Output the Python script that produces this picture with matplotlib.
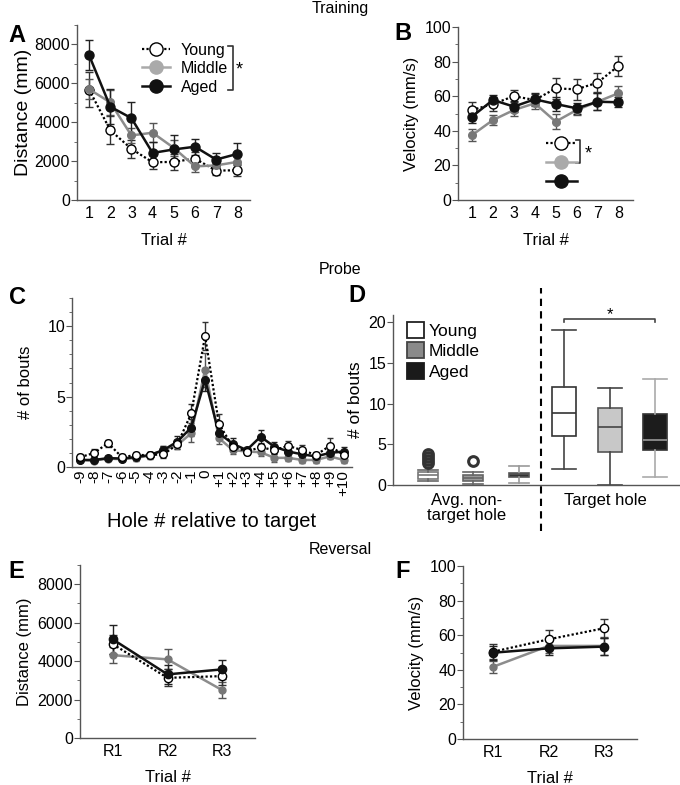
import numpy as np
import matplotlib.pyplot as plt
from matplotlib.lines import Line2D
from matplotlib.patches import Patch

plt.rcParams['font.family'] = ['Liberation Sans', 'DejaVu Sans']
plt.rcParams['font.size'] = 11

# ---- data ----
trials = [1, 2, 3, 4, 5, 6, 7, 8]
dist_young = [5680, 3590, 2630, 1940, 1960, 2130, 1510, 1530]
dist_young_err = [900, 720, 450, 350, 400, 350, 200, 300]
dist_middle = [5700, 5020, 3320, 3460, 2680, 1730, 1780, 1960]
dist_middle_err = [500, 650, 400, 500, 400, 300, 250, 400]
dist_aged = [7450, 4800, 4210, 2420, 2600, 2740, 2080, 2370]
dist_aged_err = [780, 900, 850, 550, 730, 400, 350, 550]

vel_young = [52, 55.5, 60, 57.8, 64.5, 64, 67.8, 77.5]
vel_young_err = [4.5, 4, 3.5, 3.5, 6, 6, 5.5, 6]
vel_middle = [37.5, 46.2, 52, 55.9, 45.3, 52, 56.8, 61.7]
vel_middle_err = [3.5, 3, 3.5, 3.5, 4.5, 3, 5, 4]
vel_aged = [48.2, 57.8, 54, 58.2, 55.5, 53, 56.8, 56.5]
vel_aged_err = [3.5, 3, 3, 3.5, 4, 3, 5, 3]

holes = ['-9', '-8', '-7', '-6', '-5', '-4', '-3', '-2', '-1', '0',
         '+1', '+2', '+3', '+4', '+5', '+6', '+7', '+8', '+9', '+10']
bouts_young = [0.7, 1.0, 1.7, 0.7, 0.85, 0.85, 0.9, 1.6, 3.8, 9.3,
               3.05, 1.45, 1.1, 1.4, 1.2, 1.5, 1.2, 0.85, 1.5, 0.85]
bouts_young_err = [0.2, 0.25, 0.25, 0.2, 0.2, 0.2, 0.25, 0.3, 0.7, 1.0,
                   0.7, 0.3, 0.2, 0.3, 0.3, 0.35, 0.35, 0.25, 0.55, 0.3]
bouts_middle = [0.5, 0.45, 0.6, 0.55, 0.65, 0.8, 1.2, 1.55, 2.4, 6.9,
                2.05, 1.2, 1.1, 1.05, 0.65, 0.65, 0.5, 0.5, 0.75, 0.5]
bouts_middle_err = [0.15, 0.15, 0.15, 0.15, 0.2, 0.2, 0.3, 0.3, 0.6, 1.2,
                    0.4, 0.3, 0.25, 0.3, 0.3, 0.25, 0.2, 0.2, 0.2, 0.2]
bouts_aged = [0.5, 0.5, 0.63, 0.6, 0.7, 0.85, 1.2, 1.8, 2.8, 6.2,
              2.4, 1.65, 1.2, 2.15, 1.45, 1.1, 0.9, 0.75, 1.0, 1.1]
bouts_aged_err = [0.15, 0.15, 0.15, 0.15, 0.2, 0.2, 0.3, 0.4, 0.6, 0.8,
                  0.4, 0.4, 0.25, 0.5, 0.35, 0.3, 0.3, 0.25, 0.3, 0.3]

# box plot summary (young, middle, aged)
nt_med = [1.2, 0.8, 1.3]
nt_q1 = [0.7, 0.5, 1.0]
nt_q3 = [1.65, 1.2, 1.5]
nt_lo = [0.5, 0.1, 0.3]
nt_hi = [1.8, 1.6, 2.3]
nt_fliers = [[2.75, 3.1, 3.5, 3.85], [2.95], []]
tg_med = [8.9, 7.1, 5.5]
tg_q1 = [6.05, 4.0, 4.3]
tg_q3 = [12.0, 9.5, 8.7]
tg_lo = [2.0, 0.0, 1.0]
tg_hi = [19.0, 11.9, 13.0]

rev = ['R1', 'R2', 'R3']
rdist_young = [4880, 3130, 3220]
rdist_young_err = [500, 450, 450]
rdist_middle = [4310, 4090, 2490]
rdist_middle_err = [400, 520, 430]
rdist_aged = [5130, 3310, 3570]
rdist_aged_err = [750, 500, 480]
rvel_young = [50.5, 57.6, 64]
rvel_young_err = [4.5, 5.5, 5.5]
rvel_middle = [41.8, 53.8, 53.8]
rvel_middle_err = [3.5, 4, 5]
rvel_aged = [49.9, 52.4, 53.4]
rvel_aged_err = [4, 4, 5]

groups = ['Young', 'Middle', 'Aged']
styles = {
    'Young': dict(color='black', ls=(0, (1, 1)), lw=1.6, marker='o', mfc='white',
                  mec='black', ms=6.5, ecolor='#333333'),
    'Middle': dict(color='#8c8c8c', ls='-', lw=1.8, marker='o', mfc='#777777',
                   mec='#777777', ms=5.5, ecolor='#555555'),
    'Aged': dict(color='#111111', ls='-', lw=1.8, marker='o', mfc='#111111',
                 mec='#111111', ms=6.5, ecolor='#222222'),
}


def style_ax(ax):
    for s in ['top', 'right']:
        ax.spines[s].set_visible(False)
    for s in ['left', 'bottom']:
        ax.spines[s].set_color('#555555')
        ax.spines[s].set_linewidth(1.0)
    ax.tick_params(axis='y', which='major', length=4, color='#555555', labelsize=11.5, pad=1)
    ax.tick_params(axis='y', which='minor', length=2.5, color='#555555')
    ax.tick_params(axis='x', length=0, labelsize=11.5, pad=4)


def draw_group(ax, x, y, err, g, ms=None, capsize=3):
    st = dict(styles[g])
    ec = st.pop('ecolor')
    if ms is not None:
        st['ms'] = ms
    ax.errorbar(x, y, yerr=err, ecolor=ec, elinewidth=1, capsize=capsize,
                capthick=1, **st)


def legend_handles():
    hs = []
    for g in groups:
        st = dict(styles[g])
        st.pop('ecolor')
        if g == 'Middle':
            st['color'] = '#aaaaaa'
            st['mfc'] = '#aaaaaa'
            st['mec'] = '#aaaaaa'
        st['ms'] = 9.5
        hs.append(Line2D([], [], **st))
    return hs


fig = plt.figure(figsize=(6.8, 7.85), dpi=100)
W, H = 680.0, 785.0


def add_ax(l, r, t, b):
    return fig.add_axes([l / W, 1 - b / H, (r - l) / W, (b - t) / H])


# ---- A ----
axA = add_ax(77, 250, 25, 200)
style_ax(axA)
draw_group(axA, trials, dist_young, dist_young_err, 'Young')
draw_group(axA, trials, dist_middle, dist_middle_err, 'Middle')
draw_group(axA, trials, dist_aged, dist_aged_err, 'Aged')
axA.set_xlim(0.43, 8.6)
axA.set_ylim(0, 9000)
axA.set_yticks([0, 2000, 4000, 6000, 8000])
axA.set_yticks(np.arange(1000, 9001, 2000), minor=True)
axA.set_xticks(trials)
axA.set_xlabel('Trial #', fontsize=12, labelpad=9)
axA.set_ylabel('Distance (mm)', fontsize=14, labelpad=2)
axA.legend(legend_handles(), groups, loc='upper left', bbox_to_anchor=(0.375, 0.9),
           frameon=False, fontsize=11.5, handlelength=1.75, handletextpad=0.7,
           labelspacing=0.22, borderpad=0, borderaxespad=0)
tA = axA.transAxes
axA.plot([0.875, 0.9, 0.9, 0.875], [0.88, 0.88, 0.63, 0.63], color='#333333',
         lw=1.2, transform=tA, clip_on=False)
axA.text(0.94, 0.745, '*', transform=tA, fontsize=13, ha='center', va='center')

# ---- B ----
axB = add_ax(458, 633, 27, 200)
style_ax(axB)
draw_group(axB, trials, vel_young, vel_young_err, 'Young')
draw_group(axB, trials, vel_middle, vel_middle_err, 'Middle')
draw_group(axB, trials, vel_aged, vel_aged_err, 'Aged')
axB.set_xlim(0.33, 8.7)
axB.set_ylim(0, 100)
axB.set_yticks([0, 20, 40, 60, 80, 100])
axB.set_yticks(np.arange(10, 100, 20), minor=True)
axB.set_xticks(trials)
axB.set_xlabel('Trial #', fontsize=12, labelpad=9)
axB.set_ylabel('Velocity (mm/s)', fontsize=12, labelpad=4)
axB.legend(legend_handles(), ['', '', ''], loc='upper left', bbox_to_anchor=(0.5, 0.362),
           frameon=False, fontsize=12.5, handlelength=1.8, handletextpad=0,
           labelspacing=0.22, borderpad=0, borderaxespad=0)
tB = axB.transAxes
axB.plot([0.675, 0.695, 0.695, 0.675], [0.345, 0.345, 0.214, 0.214], color='#333333',
         lw=1.2, transform=tB, clip_on=False)
axB.text(0.745, 0.265, '*', transform=tB, fontsize=13, ha='center', va='center')

# ---- C ----
axC = add_ax(72, 352, 298, 467)
style_ax(axC)
xc = np.arange(len(holes))
draw_group(axC, xc, bouts_middle, bouts_middle_err, 'Middle', ms=5, capsize=2.5)
draw_group(axC, xc, bouts_aged, bouts_aged_err, 'Aged', ms=5.5, capsize=2.5)
draw_group(axC, xc, bouts_young, bouts_young_err, 'Young', ms=5.5, capsize=2.5)
axC.set_xlim(-0.6, 19.6)
axC.set_ylim(0, 12)
axC.set_yticks([0, 5, 10])
axC.set_yticks([1, 2, 3, 4, 6, 7, 8, 9, 11, 12], minor=True)
axC.set_xticks(xc)
axC.set_xticklabels(holes, rotation=90, fontsize=11)
axC.tick_params(axis='x', pad=2)
axC.set_xlabel('Hole # relative to target', fontsize=14.5, labelpad=12)
axC.set_ylabel('# of bouts', fontsize=12, labelpad=10)

# ---- D ----
axD = add_ax(393, 680, 315, 485)
style_ax(axD)
nt_face = ['white', '#9a9a9a', '#333333']
nt_edge = ['#777777', '#666666', '#555555']
nt_whisk = ['#666666', '#666666', '#999999']
tg_face = ['white', '#c8c8c8', '#1c1c1c']
tg_edge = ['#333333', '#555555', '#333333']
tg_whisk = ['#444444', '#444444', '#aaaaaa']
tg_medc = ['#333333', '#444444', '#999999']

nt_stats = [dict(med=nt_med[i], q1=nt_q1[i], q3=nt_q3[i], whislo=nt_lo[i],
                 whishi=nt_hi[i], fliers=nt_fliers[i]) for i in range(3)]
tg_stats = [dict(med=tg_med[i], q1=tg_q1[i], q3=tg_q3[i], whislo=tg_lo[i],
                 whishi=tg_hi[i], fliers=[]) for i in range(3)]
for stats, pos, wd, face, edge, whisk, medc in [
        (nt_stats, [1, 2, 3], 0.44, nt_face, nt_edge, nt_whisk, nt_edge),
        (tg_stats, [4, 5, 6], 0.53, tg_face, tg_edge, tg_whisk, tg_medc)]:
    bp = axD.bxp(stats, positions=pos, widths=wd, patch_artist=True,
                 showfliers=True, capwidths=wd,
                 flierprops=dict(marker='o', mfc='none', mec='#333333', ms=7, mew=2.2))
    for i in range(3):
        bp['boxes'][i].set(facecolor=face[i], edgecolor=edge[i], linewidth=1.2)
        bp['medians'][i].set(color=medc[i], linewidth=1.2)
        for k in (2 * i, 2 * i + 1):
            bp['whiskers'][k].set(color=whisk[i], linewidth=1.2)
            bp['caps'][k].set(color=whisk[i], linewidth=1.2)
axD.set_xlim(0.23, 6.55)
axD.set_ylim(0, 20.9)
axD.set_yticks([0, 5, 10, 15, 20])
axD.set_xticks([1.85, 4.9])
axD.set_xticklabels(['Avg. non-\ntarget hole', 'Target hole'], fontsize=12, linespacing=1.0)
axD.tick_params(axis='x', pad=6)
axD.set_ylabel('# of bouts', fontsize=12.5, labelpad=4)
axD.axvline(3.5, ymin=-0.27, ymax=1.16, color='black', lw=1.5, ls=(0, (3.5, 2.5)),
            clip_on=False)
axD.plot([4, 4, 6, 6], [20.0, 20.4, 20.4, 20.0], color='#444444', lw=1.2, clip_on=False)
axD.text(5, 21.0, '*', ha='center', va='center', fontsize=12)
axD.legend([Patch(facecolor='white', edgecolor='#222222', lw=1.3),
            Patch(facecolor='#8a8a8a', edgecolor='#444444', lw=1.3),
            Patch(facecolor='#1a1a1a', edgecolor='#1a1a1a', lw=1.3)],
           groups, loc='upper left', bbox_to_anchor=(0.05, 0.96), frameon=False,
           fontsize=12.5, handlelength=0.95, handleheight=1.05, handletextpad=0.3,
           labelspacing=0.2, borderpad=0, borderaxespad=0)

# ---- E ----
axE = add_ax(80, 255, 565, 738)
style_ax(axE)
xr = np.arange(1, 4)
draw_group(axE, xr, rdist_middle, rdist_middle_err, 'Middle', ms=5)
draw_group(axE, xr, rdist_young, rdist_young_err, 'Young', ms=6)
draw_group(axE, xr, rdist_aged, rdist_aged_err, 'Aged', ms=6)
axE.set_xlim(0.4, 3.6)
axE.set_ylim(0, 9000)
axE.set_yticks([0, 2000, 4000, 6000, 8000])
axE.set_yticks(np.arange(1000, 9001, 2000), minor=True)
axE.set_xticks(xr)
axE.set_xticklabels(rev)
axE.set_xlabel('Trial #', fontsize=12, labelpad=8)
axE.set_ylabel('Distance (mm)', fontsize=12, labelpad=4)

# ---- F ----
axF = add_ax(463, 637, 566, 739)
style_ax(axF)
draw_group(axF, xr, rvel_middle, rvel_middle_err, 'Middle', ms=5)
draw_group(axF, xr, rvel_young, rvel_young_err, 'Young', ms=6)
draw_group(axF, xr, rvel_aged, rvel_aged_err, 'Aged', ms=6)
axF.set_xlim(0.45, 3.6)
axF.set_ylim(0, 100)
axF.set_yticks([0, 20, 40, 60, 80, 100])
axF.set_yticks(np.arange(10, 100, 20), minor=True)
axF.set_xticks(xr)
axF.set_xticklabels(rev)
axF.set_xlabel('Trial #', fontsize=12, labelpad=8)
axF.set_ylabel('Velocity (mm/s)', fontsize=12, labelpad=4)

# ---- titles and panel letters ----
for txt, y in [('Training', 9), ('Probe', 270), ('Reversal', 549)]:
    fig.text(0.5, 1 - y / H, txt, ha='center', va='center', fontsize=11.5)
for letter, x, y in [('A', 17, 35), ('B', 403, 34), ('C', 18, 298), ('D', 357, 296),
                     ('E', 16, 572), ('F', 403, 572)]:
    fig.text(x / W, 1 - y / H, letter, ha='center', va='center', fontsize=17,
             fontweight='bold')

fig.savefig('out.png', dpi=100)
